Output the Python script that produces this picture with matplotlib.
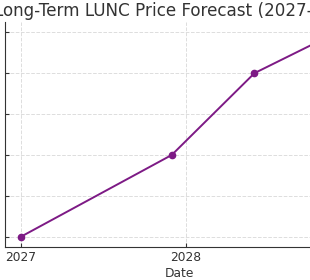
import matplotlib
matplotlib.use("Agg")
import matplotlib.pyplot as plt
import matplotlib.dates as mdates
import datetime as dt

dates = ["2027-01-01", "2027-12-01", "2028-06-01", "2028-12-01"]
prices = [0.00010, 0.00030, 0.00050, 0.00060]
title = "Long-Term LUNC Price Forecast (2027-2030)"
xlabel = "Date"
ylabel = "Price (USD)"

x = [dt.datetime.strptime(d, "%Y-%m-%d") for d in dates]

fig = plt.figure(figsize=(3.1, 2.8), dpi=100)
W, H = 310, 280
left, right, top, bottom = 5, 353, 22, 247
ax = fig.add_axes([left / W, (H - bottom) / H, (right - left) / W, (bottom - top) / H])

ax.plot(x, prices, color="#7d1a85", lw=1.4, marker="o", ms=4.5)
ax.set_title(title, fontsize=12.1, color="#333333", pad=4, x=0.496)
ax.set_xlabel(xlabel, fontsize=8.8, color="#333333", labelpad=2)
ax.set_ylabel(ylabel, fontsize=8.8, color="#333333")
ax.xaxis.set_major_locator(mdates.YearLocator())
ax.xaxis.set_major_formatter(mdates.DateFormatter("%Y"))
ax.yaxis.set_major_locator(matplotlib.ticker.MultipleLocator(0.0001))
ax.tick_params(direction="in", labelsize=8.8, labelcolor="#333333", color="#333333", length=3, pad=3)
ax.grid(True, linestyle="--", color="#dddddd", linewidth=0.7)
for s in ["top", "right"]:
    ax.spines[s].set_visible(False)
for s in ["left", "bottom"]:
    ax.spines[s].set_color("#333333")

fig.savefig("out.png", dpi=100)
